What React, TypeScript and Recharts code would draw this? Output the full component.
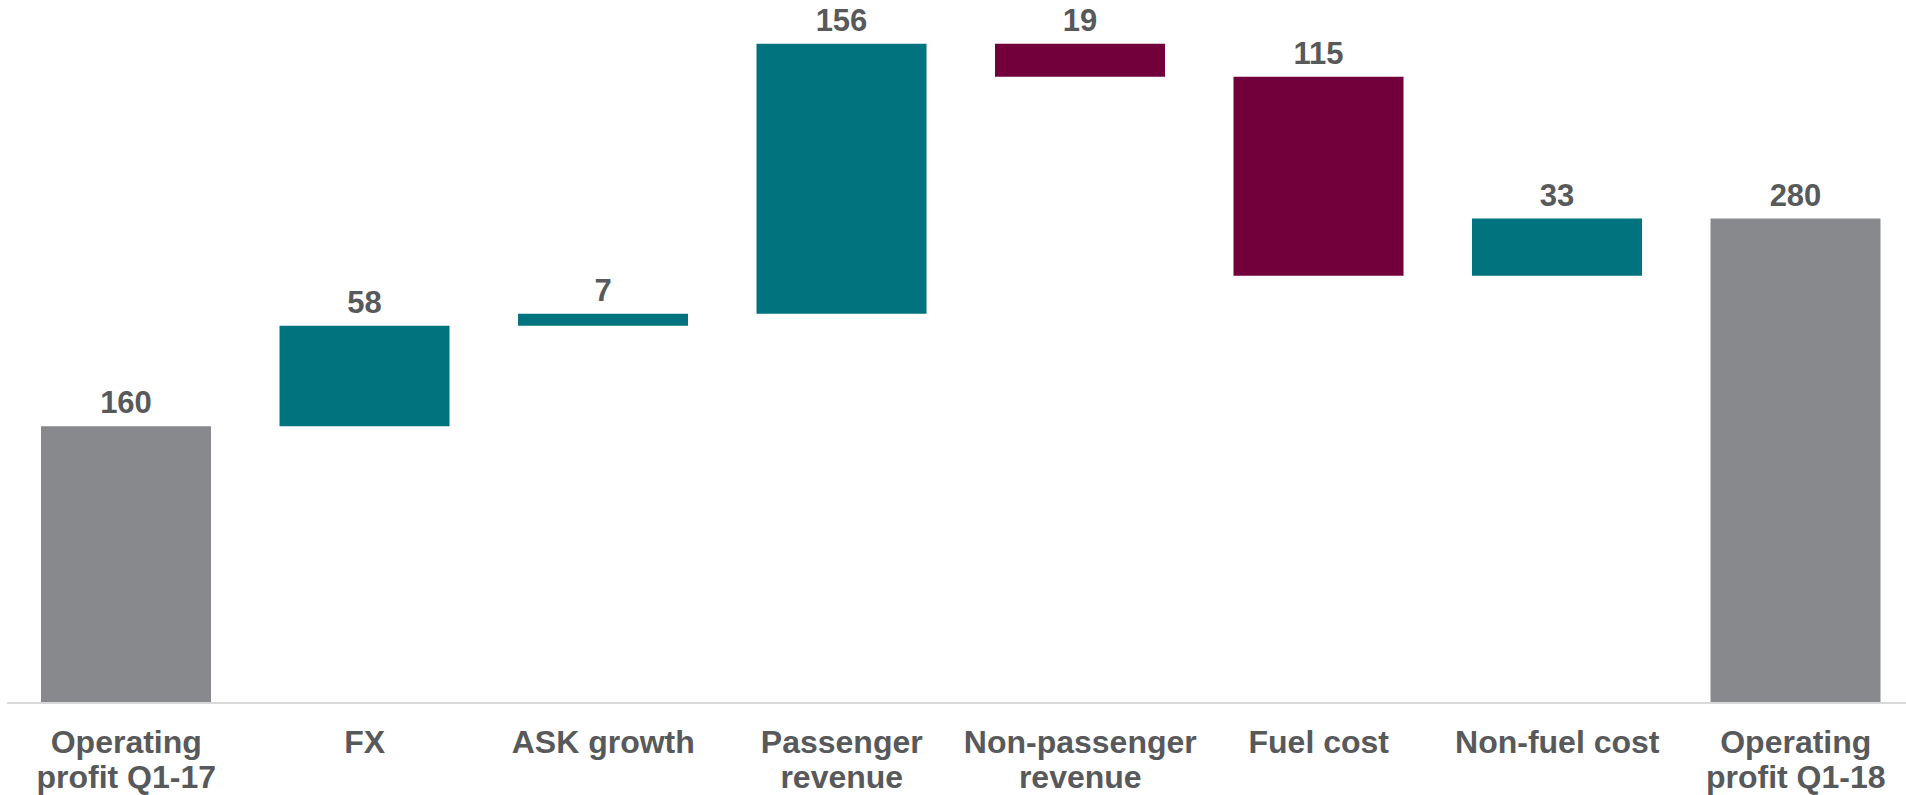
import { BarChart, Bar, Cell, XAxis, YAxis, LabelList } from "recharts";

// waterfall: invisible base + visible step
const categories = [
  "Operating\nprofit Q1-17",
  "FX",
  "ASK growth",
  "Passenger\nrevenue",
  "Non-passenger\nrevenue",
  "Fuel cost",
  "Non-fuel cost",
  "Operating\nprofit Q1-18",
];
const baseValues = [0, 160, 218, 225, 362, 247, 247, 0];
const stepValues = [160, 58, 7, 156, 19, 115, 33, 280];
const stepKinds = ["total", "up", "up", "up", "down", "down", "up", "total"];

const colors: Record<string, string> = {
  total: "#88898d",
  up: "#01737f",
  down: "#72003a",
};

const data = categories.map((name, i) => ({
  name,
  base: baseValues[i],
  step: stepValues[i],
}));

const textColor = "#58595b";
const font = "'Liberation Sans', Arial, sans-serif";

const CategoryTick = (props: any) => {
  const { x, y, payload } = props;
  const lines = String(payload.value).split("\n");
  return (
    <text
      x={x}
      y={y + 42}
      textAnchor="middle"
      fill={textColor}
      fontFamily={font}
      fontWeight="bold"
      fontSize={32}
    >
      {lines.map((line, i) => (
        <tspan key={i} x={x} dy={i === 0 ? 0 : 35}>
          {line}
        </tspan>
      ))}
    </text>
  );
};

export default function App() {
  return (
    <div
      style={{
        position: "absolute",
        left: 0,
        top: 0,
        width: 1906,
        height: 795,
        overflow: "hidden",
        background: "#fff",
      }}
    >
      <BarChart
        width={1915}
        height={795}
        data={data}
        margin={{ top: 11, right: 0, left: 7, bottom: 0 }}
      >
        <XAxis
          dataKey="name"
          height={92}
          interval={0}
          tickLine={false}
          axisLine={{ stroke: "#d9d9d9", strokeWidth: 2 }}
          tick={<CategoryTick />}
        />
        <YAxis hide domain={[0, 400]} />
        <Bar
          dataKey="base"
          stackId="a"
          fill="transparent"
          barSize={170}
          isAnimationActive={false}
        />
        <Bar dataKey="step" stackId="a" barSize={170} isAnimationActive={false}>
          {data.map((_, i) => (
            <Cell key={`cell-${i}`} fill={colors[stepKinds[i]]} />
          ))}
          <LabelList
            dataKey="step"
            position="top"
            offset={13}
            fill={textColor}
            fontFamily={font}
            fontWeight="bold"
            fontSize={31}
          />
        </Bar>
      </BarChart>
    </div>
  );
}
